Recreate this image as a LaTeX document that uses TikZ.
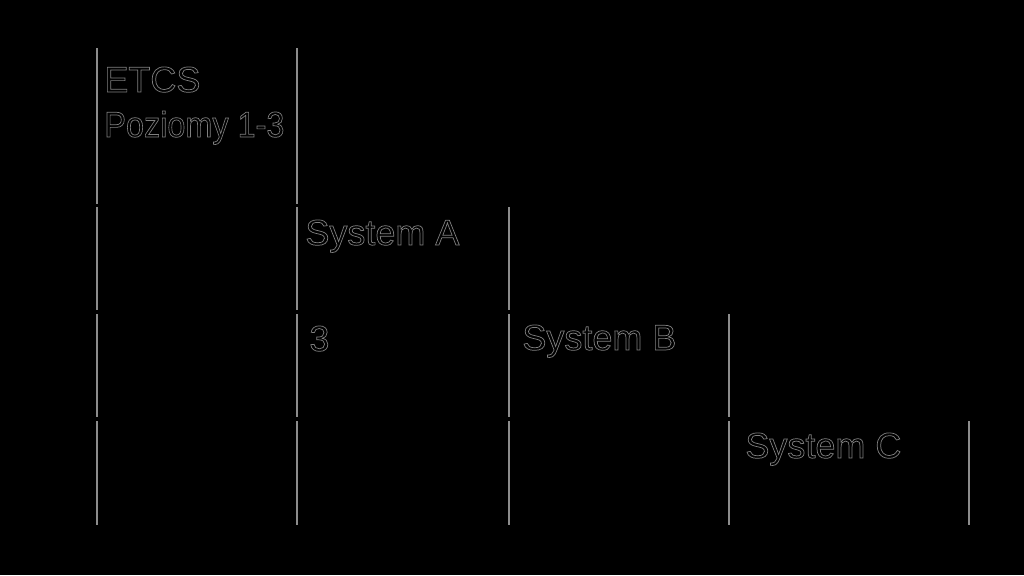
\documentclass[tikz,border=0pt]{standalone}
\usepackage{fontspec}
\setmainfont{Liberation Sans}
\usepackage{xcolor}
\usepackage{graphicx}
\usepackage{tikz}

% hollow letters: gray outline only
\newcommand{\hollowtext}[1]{\special{pdf:literal direct 0.5 G 0.35 w 1 Tr}#1\special{pdf:literal direct 0 Tr 0.3985 w}}

\tikzset{
    rule/.style={draw=white!55!black, line width=0.8pt},
    cell/.style={anchor=base west, inner sep=0pt, align=left,
        font=\fontsize{18}{22.5}\selectfont, text=black}
}

\begin{document}
\begin{tikzpicture}[x=0.5pt, y=-0.5pt]
        \fill[black] (0,0) rectangle (1024,575);
        \useasboundingbox (0,0) rectangle (1024,575);

        % rules of the stepped table, one row at a time
        \foreach \top/\bot/\last in {47/205/2, 206/311/3, 313/418/4, 420/526/5}
            \foreach \c in {1,...,\last} {
                \pgfmathsetmacro{\colx}{{97,297,509,729,969}[\c-1]}
                \draw[rule] (\colx,\top+1) -- (\colx,\bot-1);
            }

        % cell texts
        \node[cell] (etcs) at (104,137) {\hollowtext{ETCS}\\\scalebox{0.9}[1]{\hollowtext{Poziomy 1-3}}};
        \node[cell] (sysa) at (305,245) {\hollowtext{System A}};
        \node[cell] (lvl)  at (309,351) {\hollowtext{3}};
        \node[cell] (sysb) at (522,350) {\hollowtext{System B}};
        \node[cell] (sysc) at (745,458) {\hollowtext{System C}};
    \end{tikzpicture}
\end{document}
